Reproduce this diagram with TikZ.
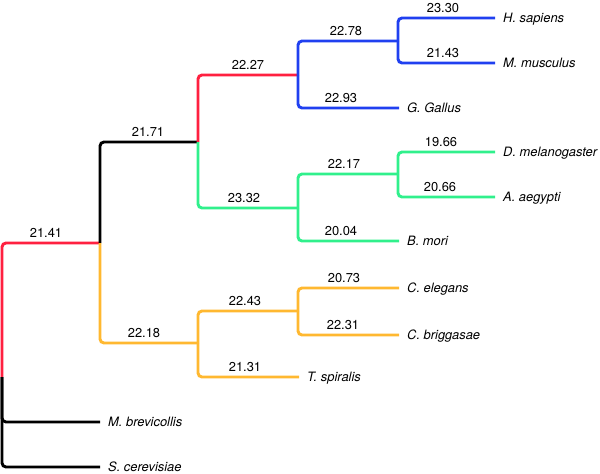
\documentclass[tikz,border=0pt]{standalone}
\usepackage{fontspec}
\setmainfont{TeX Gyre Heros}
\definecolor{tred}{RGB}{255,32,64}
\definecolor{tblue}{RGB}{32,64,240}
\definecolor{tgreen}{RGB}{48,240,140}
\definecolor{torange}{RGB}{255,184,48}
\begin{document}
\begin{tikzpicture}[x=1pt,y=-1pt,
  branch/.style={line width=2.9pt, rounded corners=4pt},
  num/.style={anchor=base, font=\fontsize{12.9}{14}\selectfont, inner sep=0pt},
  leaf/.style={anchor=west, font=\fontsize{12.9}{14}\selectfont\itshape, text height=9pt, text depth=0pt, inner ysep=0pt, inner xsep=8pt}]
\useasboundingbox (0,0) rectangle (600,474);
% internal nodes
\coordinate (r) at (2,377);
\coordinate (a) at (100,243);
\coordinate (b) at (198,142);
\coordinate (c) at (198,343);
\coordinate (d) at (298,75);
\coordinate (e) at (298,208);
\coordinate (f) at (398,41);
\coordinate (g) at (398,174);
\coordinate (h) at (298,311);
% leaves
\node[leaf] (Hs) at (495,18) {H. sapiens};
\node[leaf] (Mm) at (495,63) {M. musculus};
\node[leaf] (Gg) at (399,108) {G. Gallus};
\node[leaf] (Dm) at (495,152) {D. melanogaster};
\node[leaf] (Aa) at (495,197) {A. aegypti};
\node[leaf] (Bm) at (399,241) {B. mori};
\node[leaf] (Ce) at (399,288) {C. elegans};
\node[leaf] (Cb) at (399,335) {C. briggasae};
\node[leaf] (Ts) at (299,377) {T. spiralis};
\node[leaf] (Mb) at (100,422) {M. brevicollis};
\node[leaf] (Sc) at (100,467) {S. cerevisiae};
% branches
\draw[branch,tred] (r) |- (a);
\draw[branch,black] (r) |- (Mb.west);
\draw[branch,black] (r) |- (Sc.west);
\draw[branch,black] (a) |- (b);
\draw[branch,torange] (a) |- (c);
\draw[branch,tred] (b) |- (d);
\draw[branch,tgreen] (b) |- (e);
\draw[branch,tblue] (d) |- (f);
\draw[branch,tblue] (d) |- (Gg.west);
\draw[branch,tblue] (f) |- (Hs.west);
\draw[branch,tblue] (f) |- (Mm.west);
\draw[branch,tgreen] (e) |- (g);
\draw[branch,tgreen] (e) |- (Bm.west);
\draw[branch,tgreen] (g) |- (Dm.west);
\draw[branch,tgreen] (g) |- (Aa.west);
\draw[branch,torange] (c) |- (h);
\draw[branch,torange] (c) |- (Ts.west);
\draw[branch,torange] (h) |- (Ce.west);
\draw[branch,torange] (h) |- (Cb.west);
% branch labels
\node[num] (la) at (46,237) {21.41};
\node[num] (lb) at (148,136) {21.71};
\node[num] (lc) at (144,337) {22.18};
\node[num] (ld) at (248,69) {22.27};
\node[num] (le) at (244,202) {23.32};
\node[num] (lf) at (346,35) {22.78};
\node[num] (lGg) at (341,102) {22.93};
\node[num] (lHs) at (443,12) {23.30};
\node[num] (lMm) at (443,57) {21.43};
\node[num] (lg) at (344,168) {22.17};
\node[num] (lBm) at (341,235) {20.04};
\node[num] (lDm) at (441,146) {19.66};
\node[num] (lAa) at (440,191) {20.66};
\node[num] (lh) at (245,305) {22.43};
\node[num] (lTs) at (245,371) {21.31};
\node[num] (lCe) at (344,282) {20.73};
\node[num] (lCb) at (343,329) {22.31};
\end{tikzpicture}
\end{document}
